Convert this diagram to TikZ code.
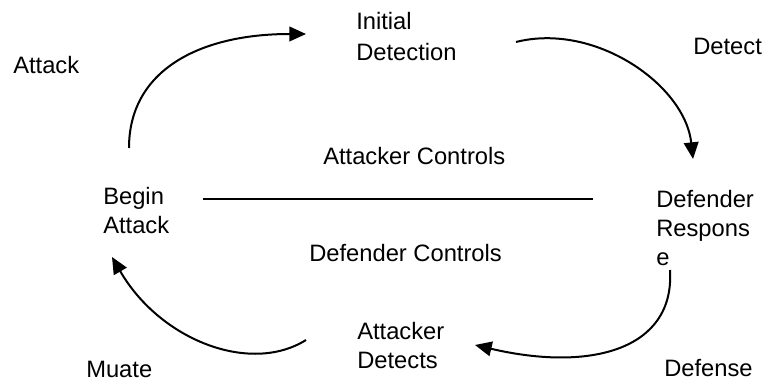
\documentclass[tikz,border=0pt]{standalone}
\usepackage{fontspec}
\setmainfont{Liberation Sans}
\usetikzlibrary{arrows.meta}
\begin{document}
\begin{tikzpicture}[x=0.75pt,y=-0.75pt,
  lbl/.style={anchor=base west,inner sep=0pt,align=left,font=\fontsize{17.8}{21.75}\selectfont},
  cyc/.style={line width=1.5pt,-{Triangle[length=12.5pt,width=11pt]}}]
\useasboundingbox (0,0) rectangle (767,381);
% labels (positioned at the baseline of their last line)
\node[lbl] (attack) at (13,74) {Attack};
\node[lbl,font=\fontsize{17.8}{23.25}\selectfont] (init) at (356,61) {Initial\\Detection};
\node[lbl] (detect) at (693,55) {Detect};
\node[lbl] (actl) at (323,165) {Attacker Controls};
\node[lbl,font=\fontsize{17.8}{21}\selectfont] (begin) at (103,233) {Begin\\Attack};
\node[lbl] (defr) at (656,265) {Defender\\Respons\\e};
\node[lbl] (dctl) at (309,261) {Defender Controls};
\node[lbl] (adet) at (357,368) {Attacker\\Detects};
\node[lbl] (muate) at (86,377) {Muate};
\node[lbl] (defense) at (664,376) {Defense};
% divider
\coordinate (dl) at (203,199);
\coordinate (dr) at (593,199);
\draw[line width=1.1pt] (dl) -- (dr);
% connector ends
\coordinate (a1s) at (129,148);
\coordinate (a1e) at (306,34);
\coordinate (a2s) at (516,42);
\coordinate (a2e) at (693,159);
\coordinate (a3s) at (670,270);
\coordinate (a3e) at (475,345);
\coordinate (a4s) at (306,340);
\coordinate (a4e) at (112,257);
\draw[cyc] (a1s) .. controls (129,70) and (200,34) .. (a1e);
\draw[cyc] (a2s) .. controls (595,22) and (685,85) .. (a2e);
\draw[cyc] (a3s) .. controls (675,350) and (590,372) .. (a3e);
\draw[cyc] (a4s) .. controls (250,375) and (160,340) .. (a4e);
\end{tikzpicture}
\end{document}
